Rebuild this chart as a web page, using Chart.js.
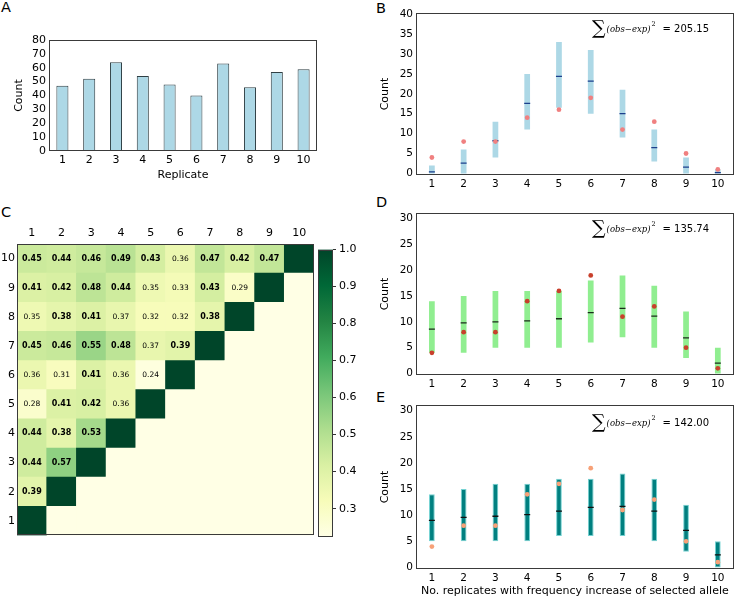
<!DOCTYPE html>
<html>
<head>
<meta charset="utf-8">
<script src="https://cdn.jsdelivr.net/npm/chart.js@4.4.0/dist/chart.umd.min.js"></script>
<style>
  html, body { margin: 0; padding: 0; background: #fff; overflow: hidden; }
  body { width: 739px; height: 597px; position: relative; }
  canvas { position: absolute; }
  .panel { position: absolute; font: 14.5px "DejaVu Sans", sans-serif; line-height: 1; color: #000; }
</style>
</head>
<body>
<div class="panel" style="left:1px;top:0px">A</div>
<div class="panel" style="left:376px;top:1px">B</div>
<div class="panel" style="left:1px;top:205px">C</div>
<div class="panel" style="left:376px;top:195px">D</div>
<div class="panel" style="left:376px;top:390px">E</div>

<canvas id="chartA" width="312" height="158" style="left:9px;top:28px"></canvas>
<canvas id="chartB" width="364" height="200" style="left:375px;top:0px"></canvas>
<canvas id="chartC" width="316" height="324" style="left:0px;top:220px"></canvas>
<canvas id="chartCbar" width="50" height="306" style="left:312px;top:240px"></canvas>
<canvas id="chartD" width="364" height="200" style="left:375px;top:200px"></canvas>
<canvas id="chartE" width="364" height="210" style="left:375px;top:392px"></canvas>

<script>
// panel A: significant SNPs per replicate
const replicates = ['1', '2', '3', '4', '5', '6', '7', '8', '9', '10'];
const replicateCounts = [47, 52, 64, 54, 48, 40, 63, 46, 57, 59];
const countTicksA = [0, 10, 20, 30, 40, 50, 60, 70, 80];

// panels B, D, E: observed vs simulated number of replicates
const nReplicates = ['1', '2', '3', '4', '5', '6', '7', '8', '9', '10'];
const observed = [4, 8, 8, 14, 16, 19, 11, 13, 5, 1];

const simBLow = [0, 0, 4, 11, 16.5, 15, 9, 3, 0, 0];
const simBHigh = [2, 6, 13, 25, 33, 31, 21, 11, 4, 1];
const simBMedian = [0.4, 2.6, 8.2, 17.6, 24.4, 23.2, 15.0, 6.5, 1.6, 0.2];

const simDLow = [4, 4, 5, 5, 5, 6, 7, 5, 3, 0];
const simDHigh = [14, 15, 16, 16, 16, 18, 19, 17, 12, 5];
const simDMedian = [8.6, 9.8, 10.0, 10.2, 10.6, 11.8, 12.6, 11.1, 6.9, 2.0];

const simELow = [5, 5, 5, 5, 6, 6, 6, 5, 3, 0];
const simEHigh = [14, 15, 16, 16, 17, 17, 18, 17, 12, 5];
const simEMedian = [9.0, 9.6, 9.8, 10.1, 10.8, 11.5, 11.7, 10.8, 7.1, 2.4];

const sumSqB = '205.15';
const sumSqD = '135.74';
const sumSqE = '142.00';

const countTicksB = [0, 5, 10, 15, 20, 25, 30, 35, 40];
const countTicksDE = [0, 5, 10, 15, 20, 25, 30];

// panel C: pairwise correlation between replicates (row = replicate on y axis)
const corrLabels = ['1', '2', '3', '4', '5', '6', '7', '8', '9', '10'];
const corr = [
  [1, 0, 0, 0, 0, 0, 0, 0, 0, 0],
  [0.39, 1, 0, 0, 0, 0, 0, 0, 0, 0],
  [0.44, 0.57, 1, 0, 0, 0, 0, 0, 0, 0],
  [0.44, 0.38, 0.53, 1, 0, 0, 0, 0, 0, 0],
  [0.28, 0.41, 0.42, 0.36, 1, 0, 0, 0, 0, 0],
  [0.36, 0.31, 0.41, 0.36, 0.24, 1, 0, 0, 0, 0],
  [0.45, 0.46, 0.55, 0.48, 0.37, 0.39, 1, 0, 0, 0],
  [0.35, 0.38, 0.41, 0.37, 0.32, 0.32, 0.38, 1, 0, 0],
  [0.41, 0.42, 0.48, 0.44, 0.35, 0.33, 0.43, 0.29, 1, 0],
  [0.45, 0.44, 0.46, 0.49, 0.43, 0.36, 0.47, 0.42, 0.47, 1]
];
const boldCut = 0.38;
const cbarTicks = [0.3, 0.4, 0.5, 0.6, 0.7, 0.8, 0.9, 1.0];
const vmin = 0.225;
const vmax = 1.0;

const ylgn = ['#ffffe5', '#f7fcb9', '#d9f0a3', '#addd8e', '#78c679', '#41ab5d', '#238443', '#006837', '#004529'];

function hexRgb(h) {
  return [1, 3, 5].map(i => parseInt(h.slice(i, i + 2), 16));
}

function ylgnColor(v) {
  let t = (v - vmin) / (vmax - vmin);
  t = Math.max(0, Math.min(1, t));
  const p = t * (ylgn.length - 1);
  const i = Math.min(Math.floor(p), ylgn.length - 2);
  const f = p - i;
  const a = hexRgb(ylgn[i]), b = hexRgb(ylgn[i + 1]);
  const c = a.map((x, k) => Math.round(x + (b[k] - x) * f));
  return `rgb(${c[0]},${c[1]},${c[2]})`;
}

Chart.defaults.font.family = '"DejaVu Sans", sans-serif';
Chart.defaults.font.size = 11;
Chart.defaults.color = '#000';
Chart.defaults.animation = false;
Chart.defaults.responsive = false;
Chart.defaults.plugins.legend.display = false;
Chart.defaults.plugins.tooltip.enabled = false;

const noGrid = { display: false, drawTicks: false };

// box round every plot area, like the matplotlib axes frame
const frame = {
  id: 'frame',
  afterDraw(chart) {
    const { ctx, chartArea: a } = chart;
    ctx.save();
    ctx.strokeStyle = '#3a3a3a';
    ctx.lineWidth = 1;
    ctx.strokeRect(Math.round(a.left) + 0.5, Math.round(a.top) + 0.5,
      Math.round(a.right - a.left) - 1, Math.round(a.bottom - a.top) - 1);
    ctx.restore();
  }
};
Chart.register(frame);

const sumLabel = {
  id: 'sumLabel',
  afterDraw(chart, args, opts) {
    if (!opts.value) return;
    const { ctx, chartArea } = chart;
    let x = chartArea.left + 176;
    const y = chartArea.top + opts.dy;
    ctx.save();
    ctx.fillStyle = '#000';
    ctx.textBaseline = 'middle';
    ctx.font = '19px "DejaVu Serif"';
    ctx.fillText('\u2211', x, y);
    x += ctx.measureText('\u2211').width + 1;
    ctx.font = 'italic 8.5px "DejaVu Serif"';
    ctx.fillText('(obs\u2212exp)', x, y + 1);
    x += ctx.measureText('(obs\u2212exp)').width + 1;
    ctx.font = '6.5px "DejaVu Serif"';
    ctx.fillText('2', x, y - 5);
    x += 11;
    ctx.font = '10px "DejaVu Sans"';
    ctx.fillText('= ' + opts.value, x, y + 0.5);
    ctx.restore();
  }
};

function fixedTicks(list) {
  return scale => { scale.ticks = list.map(v => ({ value: v })); };
}

new Chart(document.getElementById('chartA'), {
  type: 'bar',
  data: {
    labels: replicates,
    datasets: [{
      data: replicateCounts,
      backgroundColor: '#add8e6',
      borderColor: '#2f3f44',
      borderWidth: 1,
      barPercentage: 0.45,
      categoryPercentage: 1
    }]
  },
  options: {
    layout: { padding: { top: 12, right: 4, left: 0, bottom: 0 } },
    scales: {
      x: {
        grid: noGrid, border: { display: false },
        ticks: { font: { size: 11 }, maxRotation: 0, padding: 3, autoSkip: false },
        title: { display: true, text: 'Replicate', font: { size: 11 } },
        afterFit: s => { s.height = 35; }
      },
      y: {
        min: 0, max: 80,
        afterBuildTicks: fixedTicks(countTicksA),
        grid: noGrid, border: { display: false },
        ticks: { font: { size: 11 }, padding: 3, autoSkip: false },
        title: { display: true, text: 'Count', font: { size: 11 } },
        afterFit: s => { s.width = 40; }
      }
    }
  }
});

function rangeChart(id, low, high, median, cfg) {
  return new Chart(document.getElementById(id), {
    type: 'bar',
    data: {
      labels: nReplicates,
      datasets: [
        {
          type: 'bar',
          data: low.map((v, i) => [v, high[i]]),
          backgroundColor: cfg.barColor,
          borderColor: cfg.edgeColor || cfg.barColor,
          borderWidth: cfg.edgeColor ? 1 : 0,
          borderSkipped: false,
          barPercentage: 0.18,
          categoryPercentage: 1,
          order: 3
        },
        {
          type: 'line',
          data: median,
          showLine: false,
          pointStyle: 'line',
          pointRadius: 3,
          pointBorderWidth: 1.3,
          pointBorderColor: cfg.medianColor,
          order: 2
        },
        {
          type: 'line',
          data: observed,
          showLine: false,
          pointStyle: 'circle',
          pointRadius: 2.4,
          pointBorderWidth: 0,
          pointBackgroundColor: cfg.dotColor,
          order: 1
        }
      ]
    },
    options: {
      layout: { padding: { top: 13, right: 1, left: 0, bottom: 0 } },
      plugins: { sumLabel: { value: cfg.sum, dy: cfg.dy } },
      scales: {
        x: {
          grid: noGrid, border: { display: false },
          ticks: { font: { size: 10.5 }, maxRotation: 0, padding: 3, autoSkip: false },
          title: { display: !!cfg.xTitle, text: cfg.xTitle || '', font: { size: 11 } },
          afterFit: s => { s.height = cfg.xHeight; }
        },
        y: {
          min: cfg.ymin, max: cfg.ymax,
          afterBuildTicks: fixedTicks(cfg.ticks),
          grid: noGrid, border: { display: false },
          ticks: { font: { size: 10.5 }, padding: 3, autoSkip: false },
          title: { display: true, text: 'Count', font: { size: 11 } },
          afterFit: s => { s.width = 41; }
        }
      }
    },
    plugins: [sumLabel]
  });
}

rangeChart('chartB', simBLow, simBHigh, simBMedian, {
  barColor: '#add8e6', medianColor: '#1c3f8c', dotColor: '#f08080',
  sum: sumSqB, dy: 16, ymin: -0.4, ymax: 40.3, ticks: countTicksB, xHeight: 25
});
rangeChart('chartD', simDLow, simDHigh, simDMedian, {
  barColor: '#90ee90', medianColor: '#1b2b1b', dotColor: '#c8402c',
  sum: sumSqD, dy: 16, ymin: -0.3, ymax: 31.1, ticks: countTicksDE, xHeight: 25
});
rangeChart('chartE', simELow, simEHigh, simEMedian, {
  barColor: '#008080', edgeColor: '#74d2d2', medianColor: '#111', dotColor: '#f7a178',
  sum: sumSqE, dy: 18, ymin: -0.3, ymax: 31.1, ticks: countTicksDE, xHeight: 33,
  xTitle: 'No. replicates with frequency increase of selected allele'
});

// heatmap cells as floating bars, one dataset per row
const heatDatasets = corr.map((row, r) => ({
  data: row.map(() => [r + 0.5, r + 1.5]),
  backgroundColor: row.map(v => ylgnColor(v)),
  borderWidth: 0,
  grouped: false,
  barPercentage: 1,
  categoryPercentage: 1
}));

const cellText = {
  id: 'cellText',
  afterDatasetsDraw(chart) {
    const ctx = chart.ctx;
    ctx.save();
    ctx.fillStyle = '#000';
    ctx.textAlign = 'center';
    ctx.textBaseline = 'middle';
    corr.forEach((row, r) => {
      const meta = chart.getDatasetMeta(r);
      row.forEach((v, c) => {
        if (c >= r) return;
        const el = meta.data[c];
        ctx.font = v >= boldCut ? 'bold 8px "DejaVu Sans"' : '7.5px "DejaVu Sans"';
        ctx.fillText(v.toFixed(2), el.x, (el.y + el.base) / 2);
      });
    });
    ctx.restore();
  }
};

new Chart(document.getElementById('chartC'), {
  type: 'bar',
  data: { labels: corrLabels, datasets: heatDatasets },
  options: {
    layout: { padding: { top: 0, right: 2, left: 0, bottom: 2 } },
    scales: {
      x: {
        position: 'top',
        grid: noGrid, border: { display: false },
        ticks: { font: { size: 11 }, maxRotation: 0, padding: 4, autoSkip: false },
        afterFit: s => { s.height = 24; }
      },
      y: {
        min: 0.5, max: 10.5,
        afterBuildTicks: fixedTicks(corrLabels.map(Number)),
        grid: noGrid, border: { display: false },
        ticks: { font: { size: 11 }, padding: 2, autoSkip: false },
        afterFit: s => { s.width = 17; }
      }
    }
  },
  plugins: [cellText]
});

new Chart(document.getElementById('chartCbar'), {
  type: 'bar',
  data: {
    labels: [''],
    datasets: [{
      data: [[vmin, vmax]],
      backgroundColor(c) {
        const a = c.chart.chartArea;
        if (!a) return ylgn[0];
        const g = c.chart.ctx.createLinearGradient(0, a.bottom, 0, a.top);
        ylgn.forEach((col, i) => g.addColorStop(i / (ylgn.length - 1), col));
        return g;
      },
      borderWidth: 0,
      barPercentage: 1,
      categoryPercentage: 1
    }]
  },
  options: {
    layout: { padding: { top: 4, right: 0, left: 6, bottom: 4 } },
    scales: {
      x: { display: false },
      y: {
        position: 'right',
        min: vmin, max: vmax,
        afterBuildTicks: fixedTicks(cbarTicks),
        grid: { drawOnChartArea: false, drawTicks: true, tickLength: 3, color: '#333' },
        border: { display: false },
        ticks: { font: { size: 11 }, padding: 3, autoSkip: false, callback: v => v.toFixed(1) },
        afterFit: s => { s.width = 29; }
      }
    }
  }
});
</script>
</body>
</html>
